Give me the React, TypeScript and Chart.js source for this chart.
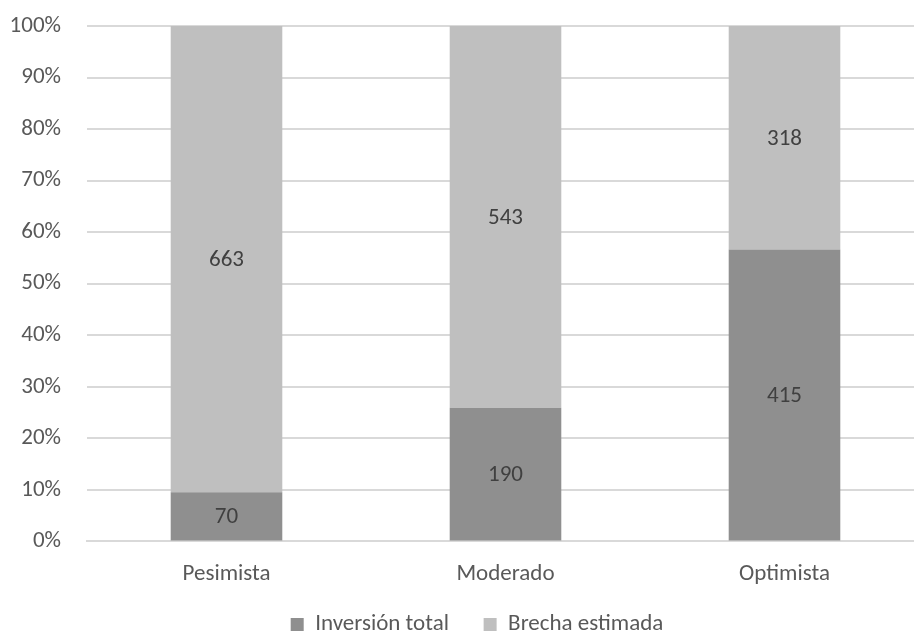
import React, { useEffect, useRef } from "react";
import { Chart, registerables } from "chart.js";

Chart.register(...registerables);

const categories = ["Pesimista", "Moderado", "Optimista"];
const inversionTotal = [70, 190, 415];
const brechaEstimada = [663, 543, 318];
const seriesNames = ["Inversión total", "Brecha estimada"];

const FONT = "Calibri, Carlito, Lato, sans-serif";
const FS = 23;

const valueLabels = {
  id: "valueLabels",
  afterDatasetsDraw(chart: any) {
    const ctx = chart.ctx;
    ctx.save();
    ctx.font = `${FS}px ${FONT}`;
    ctx.fillStyle = "#404040";
    ctx.textAlign = "center";
    ctx.textBaseline = "middle";
    chart.data.datasets.forEach((ds: any, di: number) => {
      const meta = chart.getDatasetMeta(di);
      meta.data.forEach((el: any, i: number) => {
        const raw = ds.raw[i];
        ctx.fillText(String(raw), el.x, (el.y + el.base) / 2 + 1);
      });
    });
    ctx.restore();
  },
};

const legendShift = {
  id: "legendShift",
  afterLayout(chart: any) {
    const lg = chart.legend;
    if (lg) {
      lg.left += 10;
      lg.right += 10;
    }
  },
};

export default function App() {
  const ref = useRef<HTMLCanvasElement>(null);
  useEffect(() => {
    const totals = categories.map((_, i) => inversionTotal[i] + brechaEstimada[i]);
    const pct = (arr: number[]) => arr.map((v, i) => (v / totals[i]) * 100);
    const chart = new Chart(ref.current!, {
      type: "bar",
      data: {
        labels: categories,
        datasets: [
          {
            label: seriesNames[0],
            data: pct(inversionTotal),
            raw: inversionTotal,
            backgroundColor: "#8f8f8f",
            categoryPercentage: 1,
            barPercentage: 0.4,
          } as any,
          {
            label: seriesNames[1],
            data: pct(brechaEstimada),
            raw: brechaEstimada,
            backgroundColor: "#bfbfbf",
            categoryPercentage: 1,
            barPercentage: 0.4,
          } as any,
        ],
      },
      options: {
        responsive: false,
        animation: false,
        layout: { padding: { top: 26, right: 16, left: 10, bottom: -13 } },
        plugins: {
          legend: {
            position: "bottom",
            labels: {
              boxWidth: 13,
              boxHeight: 13,
              padding: 14,
              color: "#595959",
              font: { family: FONT, size: FS },
              generateLabels: (chart: any) => {
                const items = Chart.defaults.plugins.legend.labels.generateLabels(chart);
                items.forEach((it: any, i: number) => {
                  if (i < items.length - 1) it.text = it.text + "\u2002\u2009\u2009";
                });
                return items;
              },
            },
          },
          tooltip: { enabled: false },
        },
        scales: {
          x: {
            stacked: true,
            grid: { display: false },
            border: { display: true, color: "#d9d9d9", width: 2 },
            ticks: { color: "#595959", font: { family: FONT, size: FS }, padding: 11 },
          },
          y: {
            stacked: true,
            min: 0,
            max: 100,
            border: { display: false },
            grid: { color: "#d9d9d9", lineWidth: 2, drawTicks: false },
            afterFit: (s: any) => {
              s.width = 77;
              s.paddingTop = 0;
              s.paddingBottom = 0;
            },
            ticks: {
              stepSize: 10,
              padding: 26,
              color: "#595959",
              font: { family: FONT, size: FS },
              callback: (v: any) => v + "%",
            },
          },
        },
      },
      plugins: [valueLabels, legendShift],
    });
    return () => chart.destroy();
  }, []);
  return (
    <div
      style={{
        position: "absolute",
        left: 0,
        top: 0,
        width: 914,
        height: 633,
        overflow: "hidden",
        background: "#fff",
      }}
    >
      <canvas ref={ref} width={940} height={633} style={{ display: "block" }} />
    </div>
  );
}
